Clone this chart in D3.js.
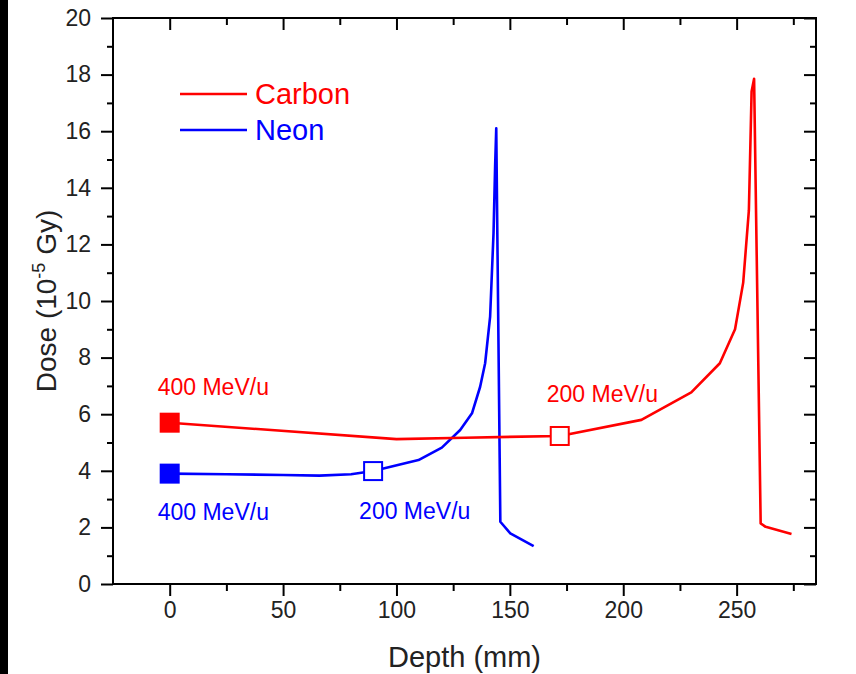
<!DOCTYPE html>
<html lang="en">
<head>
    <meta charset="UTF-8">
    <title>Dose vs Depth</title>
    <style>
        body { margin: 0; background: #fff; }
        svg { display: block; font-family: "Liberation Sans", Arial, sans-serif; }
    </style>
</head>
<body>
    <div class="container"></div>
    <script src="https://cdn.jsdelivr.net/npm/d3@7"></script>
    <script>
        // Data
        const carbonDepth = [0, 100, 130, 172, 208, 230, 242.6, 249.3, 252.9, 255.4, 256.6, 257.7, 260.6, 262.8, 274.2]
        const carbonDose  = [5.7, 5.12, 5.17, 5.23, 5.8, 6.77, 7.8, 9.0, 10.65, 13.2, 17.4, 17.85, 2.14, 2.02, 1.77]

        const neonDepth = [0, 25, 50, 66, 80, 89.7, 109.7, 120, 128.1, 133.3, 136.9, 139.1, 141.3, 142.8, 143.5, 144, 145.8, 150.2, 160.5]
        const neonDose  = [3.9, 3.88, 3.85, 3.83, 3.88, 3.99, 4.38, 4.82, 5.44, 6.03, 6.97, 7.8, 9.45, 12.4, 14.75, 16.1, 2.2, 1.79, 1.34]

        // beam energy markers: [depth, dose]
        const carbon400 = [0, 5.7]
        const carbon200 = [172, 5.23]
        const neon400 = [0, 3.9]
        const neon200 = [89.7, 3.99]
        const energyLabels = ["400 MeV/u", "200 MeV/u"]

        const xMajorTicks = [0, 50, 100, 150, 200, 250]
        const xMinorTicks = [25, 75, 125, 175, 225, 275]
        const yMajorTicks = [0, 2, 4, 6, 8, 10, 12, 14, 16, 18, 20]
        const yMinorTicks = [1, 3, 5, 7, 9, 11, 13, 15, 17, 19]

        const seriesNames = ["Carbon", "Neon"]
        const red = "#ff0000"
        const blue = "#0000ff"

        // Layout
        const width = 856
        const height = 674
        const plotLeft = 113, plotRight = 816, plotTop = 18, plotBottom = 584

        const svg = d3.select('.container')
                    .append("svg")
                    .attr("width", width)
                    .attr("height", height)

        // black strip on the left edge of the original image
        svg.append("rect").attr("x", 0).attr("y", 0).attr("width", 8).attr("height", height).attr("fill", "#000")

        const x = d3.scaleLinear().domain([-25, 285]).range([plotLeft, plotRight])
        const y = d3.scaleLinear().domain([0, 20]).range([plotBottom, plotTop])

        // Axes
        const axes = svg.append("g").attr("class", "axes")

        function styleAxis(g) {
            g.select(".domain").remove()
            g.selectAll(".tick line").attr("stroke", "#000").attr("stroke-width", 2)
            g.selectAll(".tick text").attr("fill", "#222").style("font-size", "23px")
        }

        axes.append("g").attr("transform", `translate(0,${plotBottom})`)
            .call(d3.axisBottom(x).tickValues(xMajorTicks).tickSize(12).tickPadding(6).tickFormat(d3.format("d")))
            .call(styleAxis)
        axes.append("g").attr("transform", `translate(0,${plotBottom})`)
            .call(d3.axisBottom(x).tickValues(xMinorTicks).tickSize(7).tickFormat(""))
            .call(styleAxis)
        axes.append("g").attr("transform", `translate(0,${plotTop})`)
            .call(d3.axisTop(x).tickValues(xMajorTicks).tickSize(-12).tickFormat(""))
            .call(styleAxis)
        axes.append("g").attr("transform", `translate(0,${plotTop})`)
            .call(d3.axisTop(x).tickValues(xMinorTicks).tickSize(-7).tickFormat(""))
            .call(styleAxis)

        axes.append("g").attr("transform", `translate(${plotLeft},0)`)
            .call(d3.axisLeft(y).tickValues(yMajorTicks).tickSize(12).tickPadding(10).tickFormat(d3.format("d")))
            .call(styleAxis)
        axes.append("g").attr("transform", `translate(${plotLeft},0)`)
            .call(d3.axisLeft(y).tickValues(yMinorTicks).tickSize(6).tickFormat(""))
            .call(styleAxis)
        axes.append("g").attr("transform", `translate(${plotRight},0)`)
            .call(d3.axisRight(y).tickValues(yMajorTicks).tickSize(-12).tickFormat(""))
            .call(styleAxis)
        axes.append("g").attr("transform", `translate(${plotRight},0)`)
            .call(d3.axisRight(y).tickValues(yMinorTicks).tickSize(-6).tickFormat(""))
            .call(styleAxis)

        // frame
        axes.append("rect")
            .attr("x", plotLeft).attr("y", plotTop)
            .attr("width", plotRight - plotLeft).attr("height", plotBottom - plotTop)
            .attr("fill", "none").attr("stroke", "#000").attr("stroke-width", 2)

        // Axis titles
        svg.append("text")
            .attr("x", (plotLeft + plotRight) / 2).attr("y", 667)
            .attr("text-anchor", "middle")
            .attr("fill", "#222")
            .style("font-size", "29px")
            .text("Depth (mm)")

        const yTitle = svg.append("text")
            .attr("transform", `translate(56,${(plotTop + plotBottom) / 2}) rotate(-90)`)
            .attr("text-anchor", "middle")
            .attr("fill", "#222")
            .style("font-size", "28px")
        yTitle.append("tspan").text("Dose (10")
        yTitle.append("tspan").attr("dy", -11).style("font-size", "18px").text("-5")
        yTitle.append("tspan").attr("dy", 11).text(" Gy)")

        // Curves
        const line = d3.line().x(d => x(d[0])).y(d => y(d[1]))
        const neonPts = d3.zip(neonDepth, neonDose)
        const carbonPts = d3.zip(carbonDepth, carbonDose)

        svg.append("path").datum(neonPts)
            .attr("d", line).attr("fill", "none")
            .attr("stroke", blue).attr("stroke-width", 2.6).attr("stroke-linejoin", "round")
        svg.append("path").datum(carbonPts)
            .attr("d", line).attr("fill", "none")
            .attr("stroke", red).attr("stroke-width", 2.6).attr("stroke-linejoin", "round")

        // Markers
        const sq = 18
        function marker(p, color, filled) {
            svg.append("rect")
                .attr("x", x(p[0]) - sq / 2).attr("y", y(p[1]) - sq / 2)
                .attr("width", sq).attr("height", sq)
                .attr("fill", filled ? color : "#fff")
                .attr("stroke", color).attr("stroke-width", 2)
        }
        marker(carbon400, red, true)
        marker(neon400, blue, true)
        marker(neon200, blue, false)
        marker(carbon200, red, false)

        // Energy annotations
        function note(p, dx, dy, color, label) {
            svg.append("text")
                .attr("x", x(p[0]) + dx).attr("y", y(p[1]) + dy)
                .attr("fill", color)
                .style("font-size", "23px")
                .text(label)
        }
        note(carbon400, -12, -28, red, energyLabels[0])
        note(neon400, -12, 46, blue, energyLabels[0])
        note(neon200, -14, 48, blue, energyLabels[1])
        note(carbon200, -13, -34, red, energyLabels[1])

        // Legend
        const legend = svg.append("g").attr("class", "legend")
        ;[red, blue].forEach((c, i) => {
            const ly = 94 + i * 36
            legend.append("line")
                .attr("x1", 180).attr("x2", 247).attr("y1", ly).attr("y2", ly)
                .attr("stroke", c).attr("stroke-width", 2.6)
            legend.append("text")
                .attr("x", 255).attr("y", ly + 10)
                .attr("fill", c)
                .style("font-size", "29px")
                .text(seriesNames[i])
        })
    </script>
</body>
</html>
